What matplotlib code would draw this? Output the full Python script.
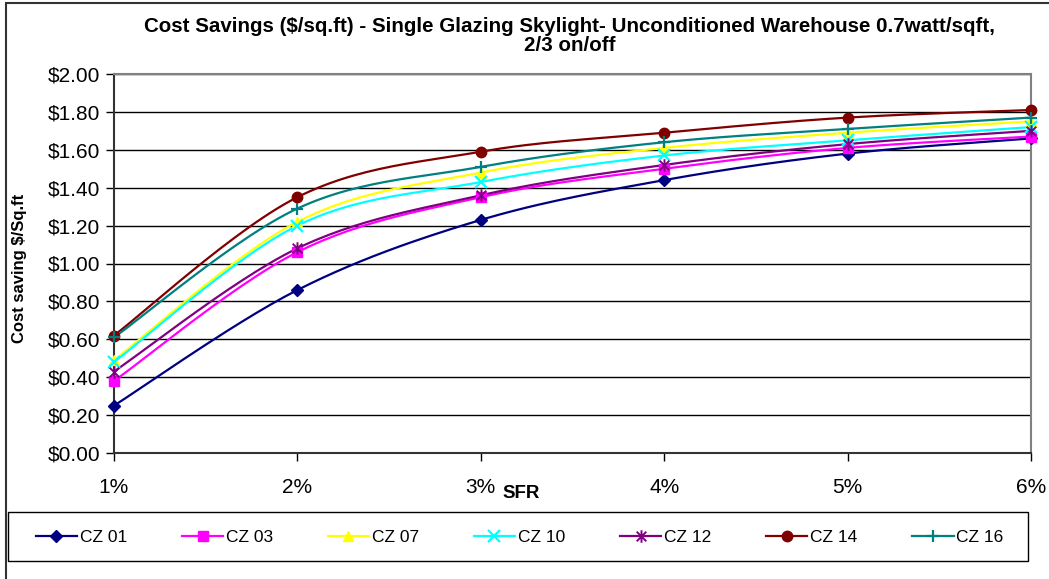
import matplotlib.pyplot as plt
import numpy as np
from matplotlib.path import Path
from matplotlib.patches import Rectangle

# Cost savings per climate zone at each skylight-to-floor ratio
sfr_labels = ['1%', '2%', '3%', '4%', '5%', '6%']

cz01 = [0.25, 0.86, 1.23, 1.44, 1.58, 1.66]
cz03 = [0.38, 1.06, 1.35, 1.50, 1.61, 1.67]
cz07 = [0.49, 1.22, 1.48, 1.61, 1.69, 1.75]
cz10 = [0.48, 1.20, 1.43, 1.57, 1.65, 1.72]
cz12 = [0.43, 1.08, 1.36, 1.52, 1.63, 1.70]
cz14 = [0.62, 1.35, 1.59, 1.69, 1.77, 1.81]
cz16 = [0.61, 1.29, 1.51, 1.64, 1.71, 1.77]

series_names = ['CZ 01', 'CZ 03', 'CZ 07', 'CZ 10', 'CZ 12', 'CZ 14', 'CZ 16']
series_values = [cz01, cz03, cz07, cz10, cz12, cz14, cz16]

# asterisk marker: an x with a vertical stroke through it
star_verts = [(-1, -1), (1, 1), (-1, 1), (1, -1), (0, -1.3), (0, 1.3)]
star_codes = [Path.MOVETO, Path.LINETO] * 3
asterisk = Path(star_verts, star_codes)

styles = [
    dict(color='#000080', marker='D', ms=6.5),
    dict(color='#FF00FF', marker='s', ms=6.5),
    dict(color='#FFFF00', marker='^', ms=7.5),
    dict(color='#00FFFF', marker='x', ms=8, mew=1.6),
    dict(color='#800080', marker=asterisk, ms=9, mew=1.4),
    dict(color='#800000', marker='o', ms=7.5),
    dict(color='#008080', marker='+', ms=9, mew=1.6),
]


def smooth(x, y, steps=30):
    # spreadsheet style smoothed line: cubic Bezier segments with
    # control points taken from the neighbouring points
    x = np.asarray(x, float)
    y = np.asarray(y, float)
    px = np.concatenate([[x[0]], x, [x[-1]]])
    py = np.concatenate([[y[0]], y, [y[-1]]])
    t = np.linspace(0, 1, steps)[:, None]
    xs, ys = [], []
    for i in range(1, len(px) - 2):
        p0 = np.array([px[i], py[i]])
        p3 = np.array([px[i + 1], py[i + 1]])
        c1 = p0 + (p3 - np.array([px[i - 1], py[i - 1]])) / 6
        c2 = p3 - (np.array([px[i + 2], py[i + 2]]) - p0) / 6
        pts = ((1 - t) ** 3) * p0 + 3 * ((1 - t) ** 2) * t * c1 \
            + 3 * (1 - t) * t ** 2 * c2 + t ** 3 * p3
        xs.append(pts[:, 0])
        ys.append(pts[:, 1])
    return np.concatenate(xs), np.concatenate(ys)


plt.rcParams['font.family'] = ['Liberation Sans', 'DejaVu Sans']

W, H = 1049, 579
fig = plt.figure(figsize=(W / 100, H / 100), dpi=100)

# outer chart border
fig.add_artist(Rectangle((6 / W, -0.05), 1.1, (H - 3) / H + 0.05, transform=fig.transFigure,
                         fill=False, edgecolor='#333333', lw=1.5))

left, right, top, bottom = 114, 1031, 74, 453
ax = fig.add_axes([left / W, 1 - bottom / H, (right - left) / W, (bottom - top) / H])

x = np.arange(len(sfr_labels))
handles = []
for name, vals, st in zip(series_names, series_values, styles):
    sx, sy = smooth(x, vals)
    ax.plot(sx, sy, color=st['color'], lw=1.6, zorder=3)
    ax.plot(x, vals, linestyle='none', marker=st['marker'], ms=st['ms'],
            color=st['color'], mec=st['color'], mew=st.get('mew', 1), zorder=4,
            clip_on=False)
    h, = ax.plot([], [], color=st['color'], lw=1.6, marker=st['marker'],
                 ms=st['ms'], mew=st.get('mew', 1), label=name)
    handles.append(h)

ax.set_xlim(0, 5)
ax.set_ylim(0, 2.0)
ax.set_yticks(np.arange(0, 2.01, 0.2))
ax.set_yticklabels([f'${v:.2f}' for v in np.arange(0, 2.01, 0.2)])
ax.set_xticks(x)
ax.set_xticklabels(sfr_labels)
ax.tick_params(axis='both', direction='out', length=6, width=1, labelsize=15,
               colors='black')
ax.tick_params(axis='y', pad=4)
ax.tick_params(axis='x', pad=12)

ax.grid(axis='y', color='black', lw=1)
ax.set_axisbelow(True)
for side in ['top', 'right']:
    ax.spines[side].set_color('#808080')
    ax.spines[side].set_linewidth(1.5)
for side in ['left', 'bottom']:
    ax.spines[side].set_color('#333333')
    ax.spines[side].set_linewidth(1.5)

fig.text(570 / W, 1 - 36 / H,
         'Cost Savings ($/sq.ft) - Single Glazing Skylight- Unconditioned Warehouse 0.7watt/sqft,\n2/3 on/off',
         ha='center', va='center', fontsize=14.8, fontweight='bold', linespacing=1.0)
fig.text(20 / W, 1 - 268 / H, 'Cost saving $/Sq.ft', rotation=90, ha='center', va='center',
         fontsize=12, fontweight='bold')
fig.text(521 / W, 1 - 494 / H, 'SFR', ha='center', va='center', fontsize=13.5,
         fontweight='bold')

# legend frame drawn on its own, entries placed inside it
lx0, lx1, ly0, ly1 = 8, 1028, 512, 561
fig.add_artist(Rectangle((lx0 / W, 1 - ly1 / H), (lx1 - lx0) / W, (ly1 - ly0) / H,
                         transform=fig.transFigure, fill=False, edgecolor='black', lw=1.0))
leg = fig.legend(handles=handles, loc='lower left', ncol=7, mode='expand',
                 bbox_to_anchor=(20 / W, 1 - ly1 / H, (1019 - 20) / W, (ly1 - ly0) / H),
                 fontsize=12.5, frameon=False,
                 handlelength=2.4, handletextpad=0.15, borderaxespad=0,
                 borderpad=0.9)

fig.savefig('out.png', dpi=100)
